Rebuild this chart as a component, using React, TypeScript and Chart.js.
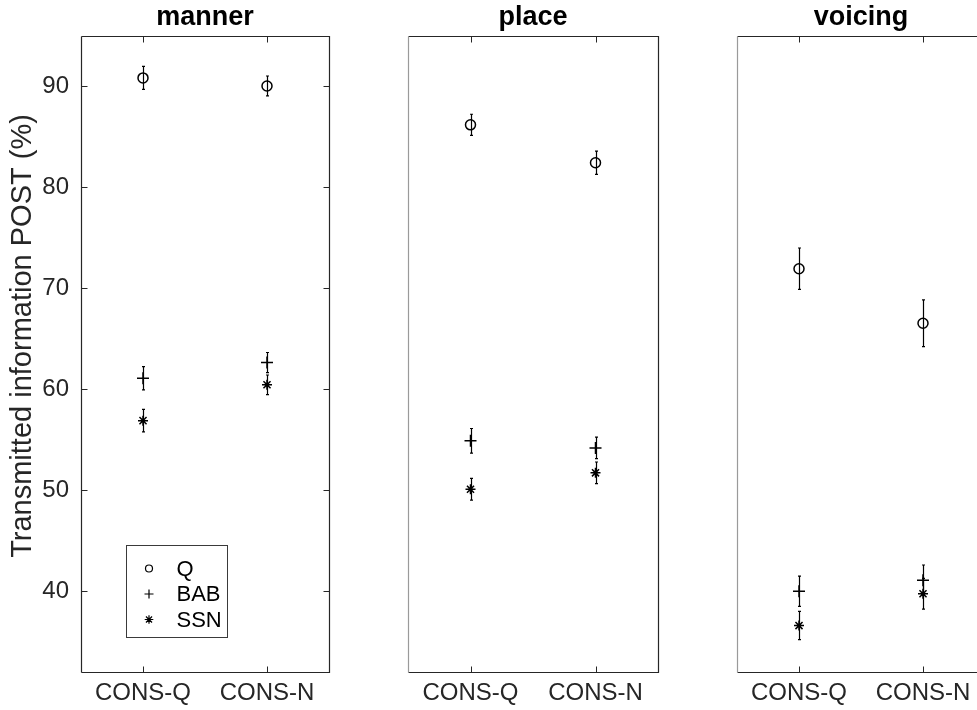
import React, { useEffect, useRef } from 'react';
import { Chart, registerables } from 'chart.js';

Chart.register(...registerables);

// ---------------- data ----------------
const categories = ['CONS-Q', 'CONS-N'];
const categoryPositions = [1, 2];
const panelTitles = ['manner', 'place', 'voicing'];
const seriesNames = ['Q', 'BAB', 'SSN'];
const yTickValues = [40, 50, 60, 70, 80, 90];
const yAxisTitle = 'Transmitted information POST (%)';

const mannerQ = [90.85, 90.05];
const mannerQErr = [1.14, 0.99];
const mannerBAB = [61.1, 62.65];
const mannerBABErr = [1.15, 1.0];
const mannerSSN = [56.9, 60.45];
const mannerSSNErr = [1.12, 0.97];

const placeQ = [86.2, 82.45];
const placeQErr = [1.05, 1.15];
const placeBAB = [54.9, 54.2];
const placeBABErr = [1.22, 1.07];
const placeSSN = [50.1, 51.73];
const placeSSNErr = [1.07, 1.07];

const voicingQ = [71.95, 66.55];
const voicingQErr = [2.05, 2.31];
const voicingBAB = [40.0, 41.1];
const voicingBABErr = [1.5, 1.5];
const voicingSSN = [36.6, 39.75];
const voicingSSNErr = [1.4, 1.52];

// ---------------- styling ----------------
const FONT = '"Liberation Sans", Arial, Helvetica, sans-serif';
const AXIS_COLOR = '#262626';
const Y_MIN = 32;
const Y_MAX = 95;
const CANVAS_H = 710;

const panelValues = [
  [mannerQ, mannerBAB, mannerSSN],
  [placeQ, placeBAB, placeSSN],
  [voicingQ, voicingBAB, voicingSSN],
];
const panelErrors = [
  [mannerQErr, mannerBABErr, mannerSSNErr],
  [placeQErr, placeBABErr, placeSSNErr],
  [voicingQErr, voicingBABErr, voicingSSNErr],
];
const pointStyles = ['circle', 'cross', 'star'];
const pointRadii = [5, 6, 5];

const panelLayout = [
  { left: 0, width: 340, padL: 0, padR: 11, showY: true, legend: true, leftColor: AXIS_COLOR },
  { left: 340, width: 330, padL: 68, padR: 12, showY: false, legend: false, leftColor: '#9a9a9a' },
  { left: 670, width: 330, padL: 67, padR: 15, showY: false, legend: false, leftColor: '#9a9a9a' },
];

function drawLegendMarker(ctx: CanvasRenderingContext2D, style: string, x: number, y: number) {
  ctx.beginPath();
  if (style === 'circle') {
    ctx.arc(x, y, 3.5, 0, Math.PI * 2);
  } else if (style === 'cross') {
    ctx.moveTo(x - 4.5, y); ctx.lineTo(x + 4.5, y);
    ctx.moveTo(x, y - 4.5); ctx.lineTo(x, y + 4.5);
  } else {
    const r = 4.3;
    ctx.moveTo(x - r, y); ctx.lineTo(x + r, y);
    ctx.moveTo(x, y - r); ctx.lineTo(x, y + r);
    const d = r * Math.SQRT1_2;
    ctx.moveTo(x - d, y - d); ctx.lineTo(x + d, y + d);
    ctx.moveTo(x - d, y + d); ctx.lineTo(x + d, y - d);
  }
  ctx.stroke();
}

const decorPlugin = {
  id: 'panelDecor',
  beforeDatasetsDraw(chart: any, _args: any, opts: any) {
    const ctx = chart.ctx as CanvasRenderingContext2D;
    const xs = chart.scales.x;
    const ys = chart.scales.y;
    ctx.save();
    ctx.strokeStyle = '#000';
    ctx.lineWidth = 1.2;
    chart.data.datasets.forEach((ds: any, i: number) => {
      const errs = opts.errors[i];
      ds.data.forEach((p: any, j: number) => {
        const x = Math.round(xs.getPixelForValue(p.x)) + 0.5;
        const y1 = ys.getPixelForValue(p.y + errs[j]);
        const y2 = ys.getPixelForValue(p.y - errs[j]);
        ctx.beginPath();
        ctx.moveTo(x, y1); ctx.lineTo(x, y2);
        ctx.moveTo(x - 1.5, y1); ctx.lineTo(x + 1.5, y1);
        ctx.moveTo(x - 1.5, y2); ctx.lineTo(x + 1.5, y2);
        ctx.stroke();
      });
    });
    ctx.restore();
  },
  afterDraw(chart: any, _args: any, opts: any) {
    const ctx = chart.ctx as CanvasRenderingContext2D;
    const { left, right, top, bottom } = chart.chartArea;
    const L = Math.round(left) + 0.5;
    const R = Math.round(right) + 0.5;
    const T = Math.round(top) + 0.5;
    const B = Math.round(bottom) + 0.5;
    const xs = chart.scales.x;
    const ys = chart.scales.y;
    ctx.save();
    ctx.lineWidth = 1.2;
    // box
    ctx.strokeStyle = AXIS_COLOR;
    ctx.beginPath();
    ctx.moveTo(L, T); ctx.lineTo(R, T); ctx.lineTo(R, B); ctx.lineTo(L, B);
    ctx.stroke();
    ctx.strokeStyle = opts.leftColor;
    ctx.beginPath();
    ctx.moveTo(L, T); ctx.lineTo(L, B);
    ctx.stroke();
    // ticks
    ctx.strokeStyle = AXIS_COLOR;
    ctx.lineWidth = 1;
    const tl = 6;
    ctx.beginPath();
    categoryPositions.forEach((v) => {
      const x = Math.round(xs.getPixelForValue(v)) + 0.5;
      ctx.moveTo(x, B); ctx.lineTo(x, B - tl);
      ctx.moveTo(x, T); ctx.lineTo(x, T + tl);
    });
    if (opts.showY) {
      yTickValues.forEach((v) => {
        const y = Math.round(ys.getPixelForValue(v)) + 0.5;
        ctx.moveTo(L, y); ctx.lineTo(L + tl, y);
        ctx.moveTo(R, y); ctx.lineTo(R - tl, y);
      });
    }
    ctx.stroke();
    // title
    ctx.fillStyle = '#000';
    ctx.font = `bold 27px ${FONT}`;
    ctx.textAlign = 'center';
    ctx.textBaseline = 'alphabetic';
    ctx.fillText(opts.title, (left + right) / 2, 25);
    // y axis label
    if (opts.showY) {
      ctx.save();
      ctx.translate(23, 336);
      ctx.rotate(-Math.PI / 2);
      ctx.font = `29px ${FONT}`;
      ctx.fillStyle = AXIS_COLOR;
      ctx.textAlign = 'center';
      ctx.textBaseline = 'middle';
      ctx.fillText(yAxisTitle, 0, 0);
      ctx.restore();
    }
    // legend
    if (opts.legend) {
      const bx = Math.round(left + 45) + 0.5;
      const by = Math.round(bottom - 127) + 0.5;
      const bw = 101;
      const bh = 92;
      ctx.fillStyle = '#fff';
      ctx.fillRect(bx, by, bw, bh);
      ctx.strokeStyle = '#3a3a3a';
      ctx.lineWidth = 1;
      ctx.strokeRect(bx, by, bw, bh);
      ctx.font = `22px ${FONT}`;
      ctx.textAlign = 'left';
      ctx.textBaseline = 'middle';
      seriesNames.forEach((name, i) => {
        const cy = by + 23 + i * 25.5;
        ctx.strokeStyle = '#000';
        ctx.lineWidth = 1.2;
        drawLegendMarker(ctx, pointStyles[i], bx + 22.5, cy);
        ctx.fillStyle = '#000';
        ctx.fillText(name, bx + 50, cy + 1);
      });
    }
    ctx.restore();
  },
};

function Panel({ index }: { index: number }) {
  const ref = useRef<HTMLCanvasElement | null>(null);
  const lay = panelLayout[index];
  useEffect(() => {
    if (!ref.current) return;
    const datasets = seriesNames.map((name, i) => ({
      label: name,
      data: panelValues[index][i].map((v, j) => ({ x: categoryPositions[j], y: v })),
      pointStyle: pointStyles[i],
      pointRadius: pointRadii[i],
      pointHoverRadius: pointRadii[i],
      pointBorderColor: '#000',
      pointBackgroundColor: 'rgba(0,0,0,0)',
      pointBorderWidth: 1.5,
      borderColor: '#000',
      backgroundColor: 'rgba(0,0,0,0)',
      showLine: false,
    }));
    const chart = new Chart(ref.current, {
      type: 'scatter',
      data: { datasets },
      plugins: [decorPlugin as any],
      options: {
        responsive: false,
        maintainAspectRatio: false,
        animation: false,
        devicePixelRatio: 1,
        events: [],
        layout: { padding: { left: lay.padL, right: lay.padR, top: 36, bottom: 0 } },
        plugins: {
          legend: { display: false },
          tooltip: { enabled: false },
          title: { display: false },
          panelDecor: {
            title: panelTitles[index],
            errors: panelErrors[index],
            showY: lay.showY,
            legend: lay.legend,
            leftColor: lay.leftColor,
          },
        } as any,
        scales: {
          x: {
            type: 'linear',
            min: 0.5,
            max: 2.5,
            afterBuildTicks: (s: any) => {
              s.ticks = categoryPositions.map((v) => ({ value: v }));
            },
            afterFit: (s: any) => {
              s.height = 38;
            },
            ticks: {
              autoSkip: false,
              maxRotation: 0,
              padding: 7,
              color: AXIS_COLOR,
              font: { family: FONT, size: 24 },
              callback: (v: any) => categories[categoryPositions.indexOf(Number(v))],
            },
            grid: { display: false, drawTicks: false },
            border: { display: false },
          },
          y: {
            type: 'linear',
            display: lay.showY,
            min: Y_MIN,
            max: Y_MAX,
            afterBuildTicks: (s: any) => {
              s.ticks = yTickValues.map((v) => ({ value: v }));
            },
            afterFit: (s: any) => {
              s.width = lay.showY ? 81 : 0;
            },
            title: { display: false },
            ticks: {
              padding: 12,
              color: AXIS_COLOR,
              font: { family: FONT, size: 24 },
            },
            grid: { display: false, drawTicks: false },
            border: { display: false },
          },
        },
      },
    });
    return () => chart.destroy();
  }, [index]);
  return (
    <canvas
      ref={ref}
      width={lay.width}
      height={CANVAS_H}
      style={{ position: 'absolute', left: lay.left, top: 0, width: lay.width, height: CANVAS_H }}
    />
  );
}

export default function App() {
  return (
    <div
      style={{
        position: 'absolute',
        left: 0,
        top: 0,
        width: 977,
        height: CANVAS_H,
        overflow: 'hidden',
        background: '#fff',
      }}
    >
      {panelTitles.map((_, i) => (
        <Panel key={i} index={i} />
      ))}
    </div>
  );
}
